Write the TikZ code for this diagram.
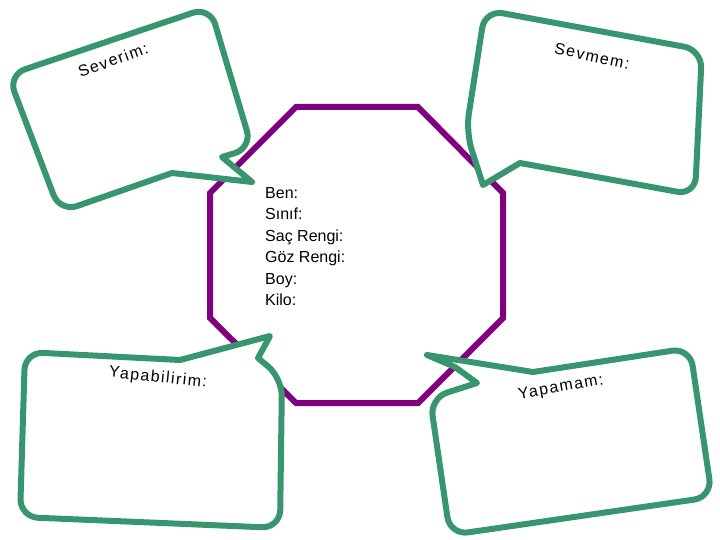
\documentclass[tikz,border=0pt]{standalone}
\usepackage{fontspec}
\setmainfont{Liberation Sans}
\newfontfamily\spaced[LetterSpace=9]{Liberation Sans}
\begin{document}
\begin{tikzpicture}[x=1pt,y=-1pt,
  oct/.style={draw={rgb,255:red,128;green,0;blue,128},line width=6pt,line join=miter},
  bub/.style={draw={rgb,255:red,56;green,150;blue,110},line width=6pt,fill=white,line join=round},
  lab/.style={font=\spaced\fontsize{16}{16}\selectfont}]
\useasboundingbox (0,0) rectangle (720,540);
\draw[oct] (296,107) -- (418,107) -- (503,193) -- (503,318) -- (418,403) -- (296,403) -- (210,318) -- (210,193) -- cycle;
\node[anchor=north west,align=left,font=\fontsize{16}{21.5}\selectfont,inner sep=0] (info) at (265,187) {Ben:\\Sınıf:\\Saç Rengi:\\Göz Rengi:\\Boy:\\Kilo:};
% bubble 1
\draw[bub] (172,173) [rounded corners=18] -- (60,212) -- (8,75) -- (210,7) -- (252,148) [sharp corners] -- (222,157) -- (252,182) -- cycle;
\node[lab,rotate=20] (b1) at (113,60) {Severim:};
% bubble 2
\draw[bub] (520,163) [rounded corners=18] -- (695,195) -- (702,50) -- (485,10) -- (466,132) [sharp corners] -- (483,185) -- cycle;
\node[lab,rotate=-12] (b2) at (592,56) {Sevmem:};
% bubble 3
\draw[bub] (180,360) [rounded corners=18] -- (25,352) -- (20,517) -- (280,528) -- (282,378) [sharp corners] -- (258,358) -- (270,336) -- cycle;
\node[lab,rotate=-6] (b3) at (158,378) {Yapabilirim:};
% bubble 4
\draw[bub] (533,372) [rounded corners=18] -- (690,348) -- (712,497) -- (450,535) -- (430,398) [sharp corners] -- (477,383) -- (455,367) -- (427,355) -- cycle;
\node[lab,rotate=10] (b4) at (561,388) {Yapamam:};
\end{tikzpicture}
\end{document}
